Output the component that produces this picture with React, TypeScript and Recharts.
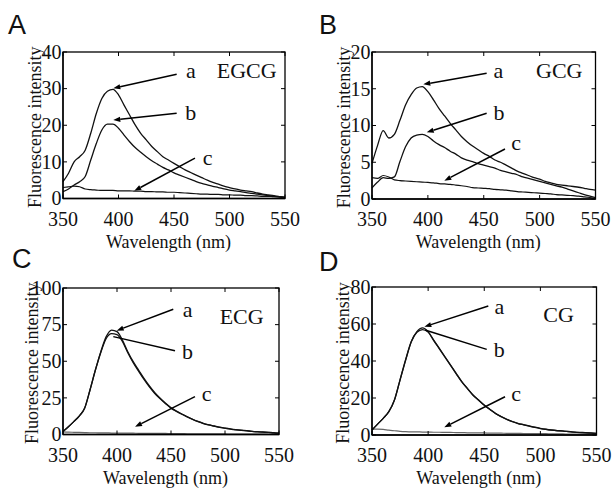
import React from 'react';
import { LineChart, Line, XAxis, YAxis, ReferenceLine, ReferenceDot } from 'recharts';

// wavelength grid (nm), read every 5 nm
const wavelengths = [
  350, 355, 360, 365, 370, 375, 380, 385, 390, 395,
  400, 405, 410, 415, 420, 425, 430, 435, 440, 445,
  450, 455, 460, 465, 470, 475, 480, 485, 490, 495,
  500, 505, 510, 515, 520, 525, 530, 535, 540, 545,
  550,
];
const xTicks = [350, 400, 450, 500, 550];

// A - EGCG
const egcgA = [
  4.6, 6.9, 10.0, 11.4, 13.2, 17.8, 23.2, 27.3, 29.3, 29.8,
  28.3, 25.5, 22.8, 20.1, 17.8, 16.0, 14.2, 12.8, 11.4, 10.5,
  9.6, 8.7, 7.8, 7.1, 6.4, 5.7, 5.0, 4.4, 3.9, 3.4,
  3.0, 2.6, 2.3, 2.1, 1.9, 1.5, 1.2, 1.0, 0.8, 0.5,
  0.3,
];
const egcgB = [
  1.9, 2.6, 3.7, 4.6, 6.0, 10.5, 15.0, 18.7, 20.3, 20.3,
  19.2, 17.3, 15.5, 13.9, 12.6, 11.4, 10.3, 9.4, 8.5, 7.8,
  7.0, 6.4, 5.8, 5.2, 4.6, 4.1, 3.7, 3.3, 3.0, 2.6,
  2.3, 2.1, 1.9, 1.6, 1.4, 1.2, 1.0, 0.8, 0.6, 0.4,
  0.2,
];
const egcgC = [
  3.0, 3.2, 3.4, 3.2, 2.6, 2.4, 2.3, 2.2, 2.2, 2.2,
  2.1, 2.1, 2.1, 2.0, 2.0, 1.9, 1.9, 1.8, 1.8, 1.7,
  1.7, 1.6, 1.5, 1.4, 1.3, 1.2, 1.2, 1.1, 1.1, 1.0,
  1.0, 0.9, 0.9, 0.8, 0.8, 0.7, 0.6, 0.6, 0.5, 0.5,
  0.4,
];

// B - GCG
const gcgA = [
  4.85, 7.3, 9.3, 8.3, 8.8, 10.7, 12.8, 14.2, 15.1, 15.3,
  14.6, 13.5, 12.3, 11.3, 10.3, 9.4, 8.5, 7.8, 7.2, 6.7,
  6.2, 5.8, 5.3, 5.0, 4.6, 4.2, 3.8, 3.5, 3.2, 2.9,
  2.7, 2.4, 2.2, 2.0, 1.9, 1.8, 1.7, 1.6, 1.45, 1.3,
  1.2,
];
const gcgB = [
  1.5, 2.3, 2.9, 2.8, 3.0, 5.1, 7.1, 8.3, 8.7, 8.8,
  8.5, 7.9, 7.4, 7.0, 6.5, 6.1, 5.6, 5.3, 5.1, 4.8,
  4.6, 4.4, 4.2, 3.9, 3.7, 3.5, 3.3, 3.0, 2.8, 2.6,
  2.4, 2.2, 2.0, 1.8, 1.6, 1.35, 1.1, 0.85, 0.6, 0.4,
  0.2,
];
const gcgC = [
  2.9, 2.8, 3.2, 3.0, 2.6, 2.5, 2.45, 2.4, 2.35, 2.3,
  2.25, 2.2, 2.1, 2.05, 2.0, 1.9, 1.8, 1.7, 1.55, 1.5,
  1.45, 1.4, 1.3, 1.25, 1.2, 1.1, 1.0, 0.95, 0.9, 0.85,
  0.8, 0.75, 0.7, 0.6, 0.55, 0.5, 0.45, 0.4, 0.3, 0.2,
  0.1,
];

// C - ECG
const ecgA = [
  2, 5.3, 8.8, 12.6, 17.9, 30.4, 44, 56.5, 66.8, 71.3,
  70.2, 64.5, 56.5, 49.7, 44, 38.3, 33.1, 28.5, 24.7, 21.3,
  18.3, 16, 14, 12.1, 10.4, 8.9, 7.6, 6.6, 5.8, 5.0,
  4.4, 3.8, 3.3, 2.9, 2.6, 2.2, 1.9, 1.7, 1.5, 1.2,
  1.0,
];
const ecgB = [
  2, 5.3, 8.8, 12.6, 17.9, 30.4, 44, 56, 65.5, 68.8,
  68.2, 63.5, 55.8, 49, 43.2, 37.6, 32.5, 28, 24.3, 21,
  18, 15.8, 13.8, 12, 10.3, 8.8, 7.5, 6.5, 5.7, 4.9,
  4.3, 3.7, 3.2, 2.8, 2.5, 2.1, 1.8, 1.6, 1.4, 1.1,
  0.9,
];
const ecgC = [
  1.8, 1.6, 1.5, 1.4, 1.3, 1.2, 1.2, 1.1, 1.1, 1.0,
  1.0, 0.9, 0.9, 0.9, 0.8, 0.8, 0.8, 0.7, 0.7, 0.7,
  0.6, 0.6, 0.6, 0.5, 0.5, 0.5, 0.5, 0.4, 0.4, 0.4,
  0.4, 0.3, 0.3, 0.3, 0.3, 0.2, 0.2, 0.2, 0.2, 0.1,
  0.1,
];

// D - CG
const cgA = [
  2.7, 5.9, 9.0, 12.6, 18.9, 29.7, 40.5, 50.4, 55.9, 57.9,
  55.9, 51.3, 46.8, 42.3, 37.8, 33.3, 28.8, 25.2, 21.6, 18.9,
  16.2, 13.9, 11.7, 10.0, 8.5, 7.3, 6.3, 5.6, 4.9, 4.2,
  3.6, 3.1, 2.7, 2.4, 2.2, 1.9, 1.6, 1.4, 1.3, 1.1,
  0.9,
];
const cgB = [
  2.7, 5.9, 9.0, 12.6, 18.9, 29.9, 40.8, 50.5, 55.5, 57.0,
  55.6, 51.0, 46.6, 42.1, 37.6, 33.1, 28.7, 25.1, 21.5, 18.8,
  16.1, 13.8, 11.6, 9.9, 8.4, 7.2, 6.2, 5.5, 4.8, 4.1,
  3.5, 3.0, 2.6, 2.3, 2.1, 1.8, 1.5, 1.3, 1.2, 1.0,
  0.8,
];
const cgC = [
  3.2, 3.2, 3.0, 2.6, 2.3, 2.0, 1.8, 1.7, 1.7, 1.6,
  1.6, 1.5, 1.5, 1.4, 1.4, 1.3, 1.3, 1.2, 1.2, 1.1,
  1.1, 1.0, 1.0, 1.0, 0.9, 0.9, 0.9, 0.8, 0.8, 0.7,
  0.7, 0.7, 0.6, 0.6, 0.6, 0.5, 0.5, 0.5, 0.5, 0.5,
  0.5,
];

const yTicksA = [0, 10, 20, 30, 40];
const yTicksB = [0, 5, 10, 15, 20];
const yTicksC = [0, 25, 50, 75, 100];
const yTicksD = [0, 20, 40, 60, 80];

// annotations, in data units: [text, wavelength, baseline value]
const labelsA = [['a', 465.1, 32.8], ['EGCG', 515.5, 32.8], ['b', 465.1, 21.4], ['c', 480.2, 9.15]];
const labelsB = [['a', 463.2, 16.4], ['GCG', 517.6, 16.4], ['b', 463.7, 10.74], ['c', 478.9, 6.66]];
const labelsC = [['a', 465.3, 80], ['ECG', 515.4, 75.4], ['b', 465.3, 51.5], ['c', 483, 23.1]];
const labelsD = [['a', 463.4, 65.4], ['CG', 516.2, 60.9], ['b', 463.4, 42], ['c', 478.3, 18.5]];

// arrows: [tailX, tailY, headX, headY, hasHead]
const arrowsA = [[452.4, 33.9, 395.3, 30.1, 1], [452.4, 23.3, 395.3, 21.4, 1], [468.9, 11.0, 414.2, 2.1, 1]];
const arrowsB = [[452.6, 17.1, 395.9, 15.6, 1], [452.6, 11.66, 399.0, 9.07, 1], [469.0, 6.8, 414.7, 2.49, 1]];
const arrowsC = [[452.1, 85.5, 399.7, 70.9, 1], [453.7, 57.2, 396.6, 66.8, 0], [472.2, 25.8, 416.7, 5.3, 1]];
const arrowsD = [[453.6, 69.7, 396.6, 58.5, 1], [452.2, 46.3, 397.2, 56.8, 0], [468.5, 20.7, 414.4, 4.2, 1]];

const SERIF = "'Liberation Serif', 'Times New Roman', Times, serif";
const SANS = "'Liberation Sans', Arial, Helvetica, sans-serif";
const YW = 40;
const TICK_LEN = 4;

const serifStyle = (size) => ({ fontFamily: SERIF, fontSize: size, fill: '#111' });

const rows = (a, b, c) => wavelengths.map((wl, i) => ({ wl, a: a[i], b: b[i], c: c[i] }));

const panels = [
  { letter: 'A', lx: 8, ly: 12, left: 0, top: 0, width: 306, height: 252,
    plot: { l: 63, r: 285, t: 52, b: 198.5 }, ytx: 28,
    data: rows(egcgA, egcgB, egcgC), yTicks: yTicksA, labels: labelsA, arrows: arrowsA, cColor: '#111' },
  { letter: 'B', lx: 319, ly: 12, left: 306, top: 0, width: 307, height: 252,
    plot: { l: 66, r: 289.5, t: 52, b: 199 }, ytx: 28,
    data: rows(gcgA, gcgB, gcgC), yTicks: yTicksB, labels: labelsB, arrows: arrowsB, cColor: '#111' },
  { letter: 'C', lx: 12, ly: 246, left: 0, top: 244, width: 306, height: 244,
    plot: { l: 63, r: 279, t: 44, b: 190.5 }, ytx: 31,
    data: rows(ecgA, ecgB, ecgC), yTicks: yTicksC, labels: labelsC, arrows: arrowsC, cColor: '#666' },
  { letter: 'D', lx: 319, ly: 249, left: 306, top: 244, width: 307, height: 244,
    plot: { l: 66, r: 290.5, t: 43, b: 191 }, ytx: 29,
    data: rows(cgA, cgB, cgC), yTicks: yTicksD, labels: labelsD, arrows: arrowsD, cColor: '#666' },
];

const axisLine = { stroke: '#000', strokeWidth: 1.3 };

// bottom tick: label plus inward marks on the bottom and top edges
function BottomTick({ x, y, payload, plotH }) {
  return (
    <g>
      <path d={`M${x},${y}v${-TICK_LEN}M${x},${y - plotH}v${TICK_LEN}`} stroke="#000" strokeWidth={1} fill="none" />
      <text x={x} y={y + 27} textAnchor="middle" style={serifStyle(20)}>
        {payload.value}
      </text>
    </g>
  );
}

// left tick: label plus inward marks on the left and right edges
function LeftTick({ x, y, payload, plotW }) {
  return (
    <g>
      <path d={`M${x},${y}h${TICK_LEN}M${x + plotW},${y}h${-TICK_LEN}`} stroke="#000" strokeWidth={1} fill="none" />
      <text x={x - 1.5} y={y + 6.8} textAnchor="end" style={serifStyle(20)}>
        {payload.value}
      </text>
    </g>
  );
}

function Arrow({ x1, y1, x2, y2, head }) {
  const dx = x2 - x1;
  const dy = y2 - y1;
  const len = Math.sqrt(dx * dx + dy * dy) || 1;
  const ux = dx / len;
  const uy = dy / len;
  const hl = 7;
  const hw = 2.6;
  const bx = x2 - ux * hl;
  const by = y2 - uy * hl;
  return (
    <g>
      <line x1={x1} y1={y1} x2={head ? bx : x2} y2={head ? by : y2} stroke="#000" strokeWidth={1.5} />
      {head ? (
        <polygon
          points={`${x2},${y2} ${bx - uy * hw},${by + ux * hw} ${bx + uy * hw},${by - ux * hw}`}
          fill="#000"
        />
      ) : null}
    </g>
  );
}

function Panel({ p }) {
  const { plot, width, height } = p;
  const xh = height - plot.b;
  const plotW = plot.r - plot.l;
  const plotH = plot.b - plot.t;
  const yMax = p.yTicks[p.yTicks.length - 1];
  return (
    <div style={{ position: 'absolute', left: p.left, top: p.top, width, height }}>
      <LineChart
        width={width}
        height={height}
        data={p.data}
        margin={{ top: plot.t, right: width - plot.r, bottom: 0, left: plot.l - YW }}
      >
        <XAxis
          dataKey="wl"
          type="number"
          domain={[350, 550]}
          ticks={xTicks}
          interval={0}
          height={xh}
          tickSize={0}
          tickMargin={0}
          axisLine={axisLine}
          tick={(t) => <BottomTick {...t} plotH={plotH} />}
          label={{
            content: () => (
              <g>
                {/* closed box round the plot area */}
                <rect x={plot.l} y={plot.t} width={plotW} height={plotH} fill="none" stroke="#000" strokeWidth={1.3} />
                <text
                  x={(plot.l + plot.r) / 2 - 5.5}
                  y={plot.b + 49}
                  textAnchor="middle"
                  style={serifStyle(18)}
                >
                  Wavelength (nm)
                </text>
              </g>
            ),
          }}
        />
        <YAxis
          type="number"
          domain={[0, yMax]}
          ticks={p.yTicks}
          interval={0}
          width={YW}
          tickSize={0}
          tickMargin={0}
          axisLine={axisLine}
          tick={(t) => <LeftTick {...t} plotW={plotW} />}
          label={{
            content: () => {
              const cx = plot.l - p.ytx;
              const cy = (plot.t + plot.b) / 2 + 2;
              return (
                <text
                  x={cx}
                  y={cy}
                  transform={`rotate(-90, ${cx}, ${cy})`}
                  textAnchor="middle"
                  dominantBaseline="central"
                  style={serifStyle(18)}
                >
                  Fluorescence intensity
                </text>
              );
            },
          }}
        />
        <Line type="monotone" dataKey="c" stroke={p.cColor} strokeWidth={1.2} dot={false} activeDot={false} isAnimationActive={false} />
        <Line type="monotone" dataKey="b" stroke="#111" strokeWidth={1.3} dot={false} activeDot={false} isAnimationActive={false} />
        <Line type="monotone" dataKey="a" stroke="#111" strokeWidth={1.3} dot={false} activeDot={false} isAnimationActive={false} />
        {p.arrows.map((a, i) => (
          <ReferenceLine
            key={`ar${i}`}
            segment={[{ x: a[0], y: a[1] }, { x: a[2], y: a[3] }]}
            ifOverflow="visible"
            shape={(s) => <Arrow x1={s.x1} y1={s.y1} x2={s.x2} y2={s.y2} head={a[4] === 1} />}
          />
        ))}
        {p.labels.map((l, i) => (
          <ReferenceDot
            key={`lb${i}`}
            x={l[1]}
            y={l[2]}
            r={0}
            ifOverflow="visible"
            shape={(s) => (
              <text x={s.cx} y={s.cy} textAnchor="middle" style={serifStyle(22)}>
                {l[0]}
              </text>
            )}
          />
        ))}
      </LineChart>
      <div
        style={{
          position: 'absolute',
          left: p.lx - p.left,
          top: p.ly - p.top,
          fontFamily: SANS,
          fontSize: 27,
          lineHeight: '27px',
          color: '#111',
        }}
      >
        {p.letter}
      </div>
    </div>
  );
}

export default function App() {
  return (
    <div style={{ position: 'absolute', left: 0, top: 0, width: 613, height: 488, background: '#fff' }}>
      {panels.map((p) => (
        <Panel key={p.letter} p={p} />
      ))}
    </div>
  );
}
